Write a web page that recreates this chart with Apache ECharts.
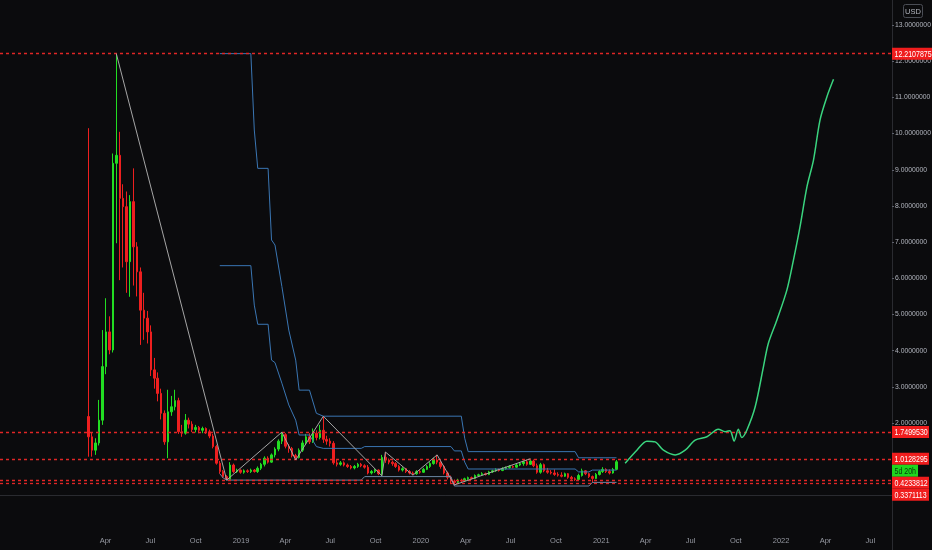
<!DOCTYPE html>
<html>
<head>
<meta charset="utf-8">
<script src="https://cdn.jsdelivr.net/npm/echarts@6/dist/echarts.min.js"></script>
<style>
html,body{margin:0;padding:0;background:#0b0b0d;overflow:hidden;}
#c{width:932px;height:550px;}
</style>
</head>
<body>
<div id="c"></div>
<script>
// ---------- data ----------
const firstCandleWeek = '2018-02-26';   // weekly candles, k = week number from this date
// [open, close, low, high]
const candles = [
[2.18,1.62,1.07,10.15],[1.62,1.25,1.07,1.75],[1.25,1.45,1.12,1.58],[1.45,2.08,1.38,2.64],[2.08,3.56,1.95,4.57],[3.56,4.52,3.35,5.45],[4.52,4.02,3.90,4.95],[4.02,9.18,3.95,9.45],[9.18,9.40,6.97,12.2107875],[9.40,8.21,5.95,10.05],
[8.21,7.98,6.30,8.60],[7.98,6.46,5.60,8.40],[6.46,8.12,5.49,8.30],[8.12,6.87,5.80,9.04],[6.87,6.18,5.50,7.00],[6.18,5.12,4.16,6.30],[5.12,4.90,4.30,5.60],[4.90,4.52,4.20,5.10],[4.52,3.47,3.30,4.70],[3.47,3.24,2.95,3.80],
[3.24,2.82,2.60,3.40],[2.82,2.27,2.10,2.95],[2.27,1.48,1.40,2.35],[1.48,2.31,1.03,2.92],[2.31,2.45,2.20,2.75],[2.45,2.62,2.35,2.92],[2.62,1.76,1.70,2.70],[1.76,1.72,1.62,1.95],[1.72,2.08,1.68,2.25],[2.08,1.97,1.85,2.15],
[1.97,1.82,1.75,2.05],[1.82,1.88,1.74,1.95],[1.88,1.80,1.72,1.92],[1.80,1.85,1.72,1.90],[1.85,1.76,1.70,1.88],[1.76,1.64,1.58,1.82],[1.64,1.35,1.30,1.70],[1.35,0.89,0.85,1.40],[0.89,0.66,0.60,0.95],[0.66,0.52,0.48,0.70],
[0.52,0.45,0.4233812,0.56],[0.45,0.84,0.43,0.92],[0.84,0.66,0.62,0.88],[0.66,0.70,0.62,0.74],[0.70,0.64,0.60,0.72],[0.64,0.68,0.60,0.72],[0.68,0.66,0.62,0.72],[0.66,0.70,0.62,0.74],[0.70,0.66,0.63,0.73],[0.66,0.75,0.62,0.80],
[0.75,0.86,0.70,0.90],[0.86,1.03,0.80,1.08],[1.03,0.92,0.88,1.08],[0.92,1.12,0.90,1.16],[1.12,1.28,1.05,1.33],[1.28,1.50,1.22,1.55],[1.50,1.68,1.42,1.749953],[1.68,1.36,1.30,1.72],[1.36,1.30,1.18,1.42],[1.30,1.10,1.05,1.34],
[1.10,1.05,0.98,1.15],[1.05,1.25,1.02,1.30],[1.25,1.45,1.20,1.52],[1.45,1.62,1.40,1.70],[1.62,1.48,1.42,1.72],[1.48,1.72,1.45,1.85],[1.72,1.60,1.52,1.80],[1.60,1.80,1.55,1.95],[1.80,1.55,1.45,2.19],[1.55,1.50,1.40,1.65],
[1.50,1.44,1.35,1.58],[1.44,0.90,0.85,1.50],[0.90,0.86,0.80,0.98],[0.86,0.90,0.82,0.95],[0.90,0.84,0.80,0.94],[0.84,0.80,0.76,0.88],[0.80,0.76,0.72,0.84],[0.76,0.80,0.72,0.84],[0.80,0.86,0.76,0.90],[0.86,0.82,0.78,0.90],
[0.82,0.78,0.74,0.86],[0.78,0.62,0.58,0.84],[0.62,0.66,0.58,0.70],[0.66,0.70,0.62,0.74],[0.70,0.60,0.56,0.72],[0.60,1.05,0.54,1.12],[1.05,0.98,0.90,1.20],[0.98,0.92,0.86,1.02],[0.92,0.88,0.82,0.96],[0.88,0.80,0.76,0.92],
[0.80,0.70,0.66,0.84],[0.70,0.74,0.66,0.78],[0.74,0.66,0.62,0.76],[0.66,0.62,0.58,0.70],[0.62,0.60,0.56,0.66],[0.60,0.66,0.57,0.70],[0.66,0.64,0.60,0.70],[0.64,0.72,0.62,0.76],[0.72,0.80,0.70,0.84],[0.80,0.88,0.76,0.92],
[0.88,0.98,0.85,1.04],[0.98,0.92,0.86,1.12],[0.92,0.80,0.74,0.95],[0.80,0.62,0.58,0.84],[0.62,0.50,0.44,0.66],[0.50,0.40,0.34,0.55],[0.40,0.36,0.27,0.44],[0.36,0.42,0.33,0.46],[0.42,0.40,0.37,0.46],[0.40,0.46,0.38,0.49],
[0.46,0.49,0.43,0.52],[0.49,0.47,0.44,0.52],[0.47,0.55,0.45,0.58],[0.55,0.57,0.52,0.60],[0.57,0.60,0.54,0.64],[0.60,0.58,0.55,0.63],[0.58,0.65,0.56,0.68],[0.65,0.68,0.62,0.71],[0.68,0.71,0.65,0.75],[0.71,0.69,0.66,0.74],
[0.69,0.74,0.67,0.78],[0.74,0.77,0.71,0.80],[0.77,0.80,0.74,0.84],[0.80,0.78,0.75,0.83],[0.78,0.84,0.76,0.87],[0.84,0.88,0.81,0.92],[0.88,0.93,0.82,0.96],[0.93,0.86,0.82,0.99],[0.86,0.95,0.84,1.0128295],[0.95,0.82,0.78,0.99],
[0.82,0.64,0.60,0.88],[0.64,0.85,0.60,0.90],[0.85,0.68,0.64,0.88],[0.68,0.64,0.60,0.76],[0.64,0.62,0.58,0.70],[0.62,0.58,0.54,0.72],[0.58,0.56,0.52,0.64],[0.56,0.53,0.50,0.64],[0.53,0.60,0.51,0.63],[0.60,0.50,0.46,0.62],
[0.50,0.46,0.43,0.54],[0.46,0.44,0.40,0.50],[0.44,0.55,0.42,0.60],[0.55,0.68,0.52,0.74],[0.68,0.60,0.56,0.70],[0.60,0.52,0.48,0.63],[0.52,0.47,0.36,0.55],[0.47,0.58,0.45,0.62],[0.58,0.66,0.55,0.70],[0.66,0.72,0.62,0.78],
[0.72,0.66,0.62,0.75],[0.66,0.62,0.58,0.72],[0.62,0.72,0.60,0.76],[0.72,0.93,0.70,0.98]
];
// channel lines: [week number, value]
const upperBand = [[38,12.2107875],[47,12.2107875],[48,10.10],[49,9.04],[52,9.04],[53,7.06],[54,6.92],[56,5.77],[58,4.57],[60,3.74],[61,2.91],[64,2.91],[66,2.27],[68,2.19],[108,2.19],[109,1.58],[110,1.21],[141,1.21],[142,1.04],[153,1.04]];
const middleBand = [[38,6.35],[47,6.35],[48,5.26],[49,4.73],[52,4.73],[53,3.74],[54,3.67],[56,3.10],[58,2.50],[60,2.08],[61,1.67],[64,1.67],[66,1.35],[68,1.30],[79,1.30],[80,1.35],[105,1.35],[106,1.23],[108,1.23],[109,0.92],[110,0.73],[141,0.73],[142,0.65],[145,0.65],[146,0.70],[153,0.70]];
const lowerBand = [[38,0.60],[39,0.48],[40,0.4234],[79,0.4234],[80,0.52],[105,0.52],[106,0.26],[145,0.26],[146,0.36],[153,0.36]];
// drawn zigzag between pivots
const zigzag = [[8,12.2107875],[40,0.4233812],[56,1.749953],[60,0.98],[68,2.19],[85,0.54],[86,1.20],[94,0.56],[101,1.12],[106,0.29],[128,1.0128295]];
// drawn projection path
const projection = [[155.5,0.89],[158.9,1.25],[161.8,1.50],[164.2,1.48],[166.6,1.25],[170.0,1.12],[172.9,1.25],[175.8,1.53],[179.2,1.62],[182.5,1.83],[184.5,1.76],[185.9,1.79],[187.1,1.50],[188.3,1.83],[189.3,1.60],[190.8,1.81],[193.2,2.45],[195.6,3.56],[197.0,4.20],[199.5,4.85],[202.4,5.68],[204.3,6.51],[206.2,7.43],[208.2,8.53],[210.1,9.27],[212.0,10.38],[214.0,11.02],[215.9,11.50]];
// horizontal levels
const levels = [12.2107875, 1.7499530, 1.0128295, 0.4233812, 0.3371113];
const levelLabels = ['12.2107875', '1.7499530', '1.0128295', '0.4233812', '0.3371113'];
const countdownLevel = 1.0128295;
const countdownText = '5d 20h';
const currencyText = 'USD';
// axes
const yTicks = [0,1,2,3,4,5,6,7,8,9,10,11,12,13];
const yRange = [-0.956, 13.693];
const xRange = ['2017-08-30', '2022-08-14'];
const xTickDates = ['2018-04-01','2018-07-01','2018-10-01','2019-01-01','2019-04-01','2019-07-01','2019-10-01','2020-01-01','2020-04-01','2020-07-01','2020-10-01','2021-01-01','2021-04-01','2021-07-01','2021-10-01','2022-01-01','2022-04-01','2022-07-01'];
const xTickLabels = ['Apr','Jul','Oct','2019','Apr','Jul','Oct','2020','Apr','Jul','Oct','2021','Apr','Jul','Oct','2022','Apr','Jul'];

// ---------- chart ----------
const FONT = "'Liberation Sans','Arial',sans-serif";
const DAY = 86400000;
const utc = s => Date.parse(s + 'T00:00:00Z');
const t0 = utc(firstCandleWeek);
const weekTime = k => t0 + k * 7 * DAY;
const toXY = arr => arr.map(p => [weekTime(p[0]), p[1]]);
const xTickTimes = xTickDates.map(utc);
const xLabelOf = v => {
  for (let i = 0; i < xTickTimes.length; i++) if (Math.abs(xTickTimes[i] - v) < DAY / 2) return xTickLabels[i];
  return '';
};

const chart = echarts.init(document.getElementById('c'), null, {renderer: 'canvas'});
const lineBase = {type: 'line', symbol: 'none', showSymbol: false, silent: true, animation: false};

chart.setOption({
  backgroundColor: '#0b0b0d',
  animation: false,
  grid: {left: 0, right: 40, top: 0, bottom: 20, containLabel: false, outerBoundsMode: 'none'},
  xAxis: {
    type: 'value', min: utc(xRange[0]), max: utc(xRange[1]),
    axisLine: {show: true, lineStyle: {color: '#2a2b30', width: 1}},
    axisTick: {show: false}, splitLine: {show: false},
    axisLabel: {customValues: xTickTimes, formatter: v => xLabelOf(v),
      color: '#9598a1', fontSize: 7.5, fontFamily: FONT, margin: 7}
  },
  yAxis: {
    type: 'value', position: 'right', min: yRange[0], max: yRange[1],
    axisLine: {show: true, lineStyle: {color: '#2a2b30', width: 1}},
    axisTick: {show: true, length: 2, customValues: yTicks, lineStyle: {color: '#5d606b'}},
    splitLine: {show: false},
    axisLabel: {customValues: yTicks, formatter: v => Number(v).toFixed(7),
      color: '#b2b5be', fontSize: 6.8, fontFamily: FONT, margin: 3}
  },
  series: [
    {
      type: 'candlestick', silent: true, barWidth: 2, z: 2,
      data: candles.map((c, k) => [weekTime(k), c[0], c[1], c[2], c[3]]),
      itemStyle: {color: '#22dd22', color0: '#ee1f1f', borderColor: '#22dd22', borderColor0: '#ee1f1f', borderWidth: 1},
      markLine: {
        silent: true, symbol: ['none', 'none'], label: {show: false},
        lineStyle: {color: '#e02626', type: [3, 3], width: 1.3},
        data: levels.map(v => ({yAxis: v}))
      }
    },
    Object.assign({}, lineBase, {data: toXY(upperBand), lineStyle: {color: '#3a76b3', width: 1}, z: 4}),
    Object.assign({}, lineBase, {data: toXY(middleBand), lineStyle: {color: '#3a76b3', width: 1}, z: 4}),
    Object.assign({}, lineBase, {data: toXY(lowerBand), lineStyle: {color: '#6a86a3', width: 1}, z: 4}),
    Object.assign({}, lineBase, {data: toXY(zigzag), lineStyle: {color: '#a5a5a5', width: 1}, z: 5}),
    Object.assign({}, lineBase, {data: toXY(projection), smooth: 0.3, lineStyle: {color: '#3ad47f', width: 1.5}, z: 5})
  ]
});

// ---------- price tags on the right scale ----------
const TAG_H = 12;
const items = levels.map((v, i) => ({
  c: chart.convertToPixel({yAxisIndex: 0}, v), text: levelLabels[i], bg: '#f01d1d', fg: '#ffffff', w: i === 0 ? 40 : 37
}));
const cIdx = levels.indexOf(countdownLevel);
items.push({c: items[cIdx].c + TAG_H + 0.01, text: countdownText, bg: '#1ed61e', fg: '#073a0c', w: 26});
items.sort((a, b) => a.c - b.c);
const gfx = [];
let prevBottom = -Infinity;
const axisX = 892;
items.forEach(it => {
  const top = Math.max(it.c - TAG_H / 2, prevBottom);
  prevBottom = top + TAG_H;
  gfx.push({type: 'rect', z: 100, silent: true, shape: {x: axisX, y: top, width: it.w, height: TAG_H}, style: {fill: it.bg}});
  gfx.push({type: 'text', z: 101, silent: true, x: axisX + 2.5, y: top + TAG_H / 2 + 0.5, scaleX: 0.78,
    style: {text: it.text, fill: it.fg, fontSize: 9, fontFamily: FONT, verticalAlign: 'middle', align: 'left'}});
});
gfx.push({type: 'line', z: 50, silent: true, shape: {x1: axisX + 0.5, y1: 530, x2: axisX + 0.5, y2: 550}, style: {stroke: '#2a2b30', lineWidth: 1}});
gfx.push({type: 'rect', z: 100, silent: true, shape: {x: 903.5, y: 4.5, width: 19, height: 13, r: 2}, style: {fill: 'none', stroke: '#4a4d55', lineWidth: 1}});
gfx.push({type: 'text', z: 101, silent: true, x: 913, y: 11.5,
  style: {text: currencyText, fill: '#b2b5be', fontSize: 7.5, fontFamily: FONT, verticalAlign: 'middle', align: 'center'}});
chart.setOption({graphic: gfx});
</script>
</body>
</html>
